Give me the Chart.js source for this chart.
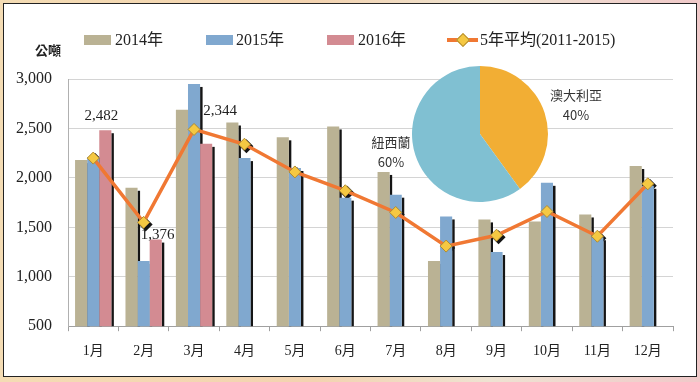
<!DOCTYPE html>
<html>
<head>
<meta charset="utf-8">
<script src="https://cdn.jsdelivr.net/npm/chart.js@4.4.1/dist/chart.umd.min.js"></script>
<style>
  body { margin: 0; width: 700px; height: 382px; overflow: hidden; position: relative;
         background: linear-gradient(90deg, #f4dcb4, #f3d3b0 45%, #eee3d2 70%, #f0c9c9); }
  #frame { position: absolute; left: 3px; top: 3px; width: 692px; height: 372px; border: 1px solid #222; background: #fff; }
  #main { position: absolute; left: 0; top: 0; }
  #pie { position: absolute; left: 412px; top: 66px; }
  .txt { position: absolute; font-family: 'Liberation Serif', 'Noto Sans CJK TC', serif; color: #222; white-space: nowrap; }
  .leg { font-size: 16px; line-height: 16px; top: 32px; }
  .sw { position: absolute; top: 35px; height: 10px; width: 27px; }
  .unit { left: 35px; top: 42px; font-family: 'Noto Sans CJK TC', sans-serif; font-weight: bold; font-size: 13px; line-height: 16px; }
  .pl { font-family: 'Noto Sans CJK TC', serif; font-size: 13px; line-height: 20px; text-align: center; color: #333; }
</style>
</head>
<body>
<div id="frame"></div>
<canvas id="main" width="700" height="382"></canvas>
<canvas id="pie" width="136" height="136"></canvas>

<div class="txt unit">公噸</div>
<div class="sw" style="left:84px;background:#bab294"></div>
<div class="txt leg" style="left:115px">2014年</div>
<div class="sw" style="left:206px;background:#80a8cf"></div>
<div class="txt leg" style="left:236px">2015年</div>
<div class="sw" style="left:327px;background:#d38b92"></div>
<div class="txt leg" style="left:358px">2016年</div>
<div style="position:absolute;left:447px;top:38px;width:31px;height:4px;background:#f07833"></div>
<div style="position:absolute;left:458px;top:35px;width:8px;height:8px;background:#f5c842;border:1px solid #b08a30;transform:rotate(45deg)"></div>
<div class="txt leg" style="left:480px">5年平均(2011-2015)</div>

<div class="txt pl" style="left:541px;top:85px;width:70px">澳大利亞<br>40%</div>
<div class="txt pl" style="left:356px;top:132px;width:70px">紐西蘭<br>60%</div>

<script>
const months = ['1月', '2月', '3月', '4月', '5月', '6月', '7月', '8月', '9月', '10月', '11月', '12月']
const y2014 = [2180, 1900, 2690, 2560, 2410, 2520, 2060, 1160, 1580, 1560, 1630, 2120]
const y2015 = [2210, 1160, 2950, 2200, 2100, 1800, 1830, 1610, 1250, 1950, 1400, 1920]
const y2016 = [2482, 1376, 2344, null, null, null, null, null, null, null, null, null]
const avg5 = [2200, 1550, 2490, 2340, 2060, 1870, 1650, 1310, 1420, 1660, 1410, 1940]
const yTicks = [500, 1000, 1500, 2000, 2500, 3000]

const pieLabels = ['澳大利亞', '紐西蘭']
const pieShares = [40, 60]

// where the 2016 value labels sit, relative to the bar top
const labelOffsets = [[-4, -14], [2, -5], [14, -33]]

// black shadow strip on the right of every bar, drawn before the bars so the next bar covers it
const shadows = {
    id: 'shadows',
    beforeDatasetsDraw(chart) {
        const ctx = chart.ctx
        const bottom = chart.chartArea.bottom
        ctx.save()
        ctx.fillStyle = '#151515'
        chart.data.datasets.forEach((ds, i) => {
            const meta = chart.getDatasetMeta(i)
            if (meta.type === 'bar') {
                meta.data.forEach((el, j) => {
                    if (ds.data[j] == null) return
                    const base = Math.min(el.base, bottom)
                    ctx.fillRect(el.x + el.width / 2, el.y + 3, 2.5, base - el.y - 3)
                })
            } else {
                meta.data.forEach(el => {
                    ctx.beginPath()
                    ctx.moveTo(el.x + 2, el.y - 5)
                    ctx.lineTo(el.x + 9, el.y + 2)
                    ctx.lineTo(el.x + 2, el.y + 9)
                    ctx.lineTo(el.x - 5, el.y + 2)
                    ctx.closePath()
                    ctx.fill()
                })
            }
        })
        ctx.restore()
    },
    afterDatasetsDraw(chart) {
        const ctx = chart.ctx
        const meta = chart.getDatasetMeta(2)
        ctx.save()
        ctx.font = '15px "Liberation Serif"'
        ctx.fillStyle = '#222'
        ctx.textAlign = 'center'
        ctx.textBaseline = 'middle'
        meta.data.forEach((el, j) => {
            if (y2016[j] == null) return
            const off = labelOffsets[j]
            ctx.fillText(y2016[j].toLocaleString('en-US'), el.x + off[0], el.y + off[1])
        })
        ctx.restore()
    }
}

var mainChart = new Chart(document.getElementById('main'), {
    type: 'bar',
    data: {
        labels: months,
        datasets: [
            { label: '2014年', data: y2014, backgroundColor: '#bab294' },
            { label: '2015年', data: y2015, backgroundColor: '#80a8cf' },
            { label: '2016年', data: y2016, backgroundColor: '#d38b92' },
            {
                type: 'line', label: '5年平均(2011-2015)', data: avg5, order: -1,
                borderColor: '#f07833', borderWidth: 3.5, tension: 0,
                pointStyle: 'rectRot', pointRadius: 6, pointHoverRadius: 6,
                pointBackgroundColor: '#f5c842', pointBorderColor: '#b08a30', pointBorderWidth: 1
            }
        ]
    },
    options: {
        responsive: false,
        animation: false,
        events: [],
        datasets: { bar: { barPercentage: 1, categoryPercentage: 0.72 } },
        layout: { padding: { left: 0, right: 27, top: 79, bottom: 10 } },
        plugins: { legend: { display: false }, tooltip: { enabled: false } },
        scales: {
            x: {
                grid: { drawOnChartArea: false, tickLength: 5, color: '#a0a0a0', offset: true },
                border: { color: '#a0a0a0' },
                ticks: { padding: 12, color: '#222', font: { family: "'Liberation Serif', 'Noto Sans CJK TC'", size: 14 } }
            },
            y: {
                min: 500, max: 3000,
                afterBuildTicks: axis => { axis.ticks = yTicks.map(v => ({ value: v })) },
                grid: { color: '#d4d4d4', drawTicks: false },
                border: { color: '#b0b0b0' },
                ticks: {
                    padding: 16, color: '#222',
                    font: { family: "'Liberation Serif'", size: 16 },
                    callback: v => v.toLocaleString('en-US')
                }
            }
        }
    },
    plugins: [shadows]
})

var pieChart = new Chart(document.getElementById('pie'), {
    type: 'pie',
    data: {
        labels: pieLabels,
        datasets: [{ data: pieShares, backgroundColor: ['#f2ae34', '#80c0d2'], borderWidth: 0 }]
    },
    options: {
        responsive: false,
        animation: false,
        events: [],
        plugins: { legend: { display: false }, tooltip: { enabled: false } }
    }
})
</script>
</body>
</html>
